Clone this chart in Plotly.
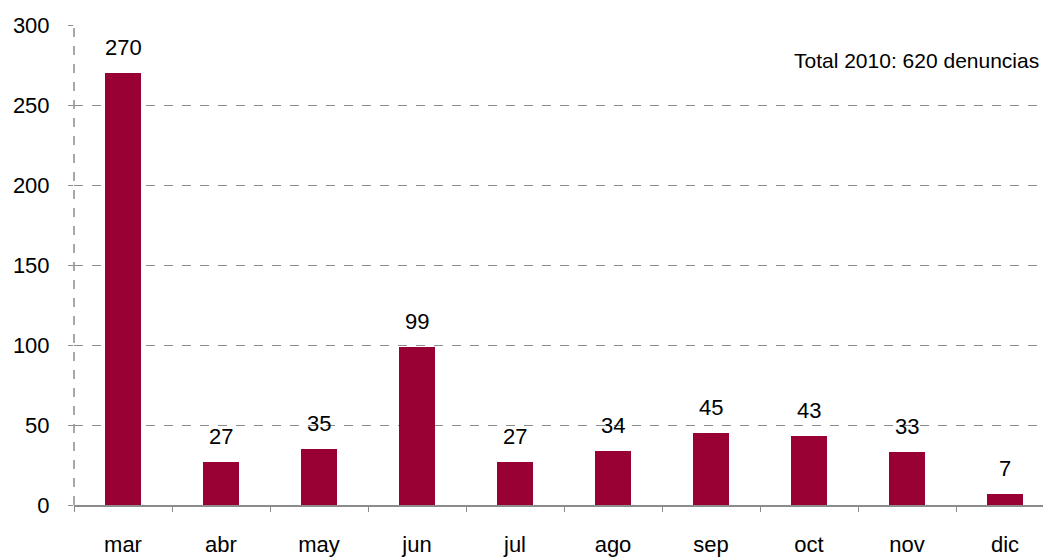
import plotly.graph_objects as go

months = ["mar", "abr", "may", "jun", "jul", "ago", "sep", "oct", "nov", "dic"]
denuncias = [270, 27, 35, 99, 27, 34, 45, 43, 33, 7]
y_ticks = [0, 50, 100, 150, 200, 250, 300]
total_label = "Total 2010: 620 denuncias"

FONT = "Liberation Sans, Arial, sans-serif"
FS = 22
BAR = "#990033"
GRID = "#8c8c8c"

fig = go.Figure()
fig.add_trace(go.Bar(
    x=months, y=denuncias, width=0.375,
    marker=dict(color=BAR, line=dict(width=0)),
    hoverinfo="skip",
))

for m, v in zip(months, denuncias):
    fig.add_annotation(x=m, y=v, text=str(v), showarrow=False,
                       yanchor="bottom", yshift=11,
                       font=dict(family=FONT, size=FS, color="#000"))

fig.add_annotation(xref="paper", x=1, xanchor="right", xshift=-2,
                   y=278, yanchor="middle", text=total_label, showarrow=False,
                   font=dict(family=FONT, size=FS - 1, color="#000"))

# dashed left axis line
fig.add_shape(type="line", xref="paper", yref="paper", x0=0, x1=0, y0=0, y1=1,
              line=dict(color=GRID, width=1.5, dash="dash"), layer="below")

fig.update_layout(
    width=1043, height=557,
    margin=dict(l=74, r=0, t=25, b=50),
    plot_bgcolor="white", paper_bgcolor="white",
    showlegend=False, bargap=0,
    font=dict(family=FONT, size=FS, color="#000"),
)
fig.update_xaxes(
    type="category", range=[-0.5, -0.5 + 969 / 98],
    showgrid=False, showline=True, linecolor=GRID, linewidth=1.5,
    ticks="outside", tickson="boundaries", ticklen=5, tickcolor=GRID,
    tickfont=dict(family=FONT, size=FS, color="#000"),
    ticklabelstandoff=19,
)
fig.update_yaxes(
    range=[0, 300], tickvals=y_ticks,
    showgrid=True, gridcolor=GRID, griddash="dash", gridwidth=1,
    zeroline=False, showline=False,
    ticks="outside", ticklen=5, tickcolor=GRID,
    tickfont=dict(family=FONT, size=FS, color="#000"),
    ticklabelstandoff=14,
)

fig.write_html("out.html", config={"displayModeBar": False},
               post_script="document.body.style.margin='0';")
